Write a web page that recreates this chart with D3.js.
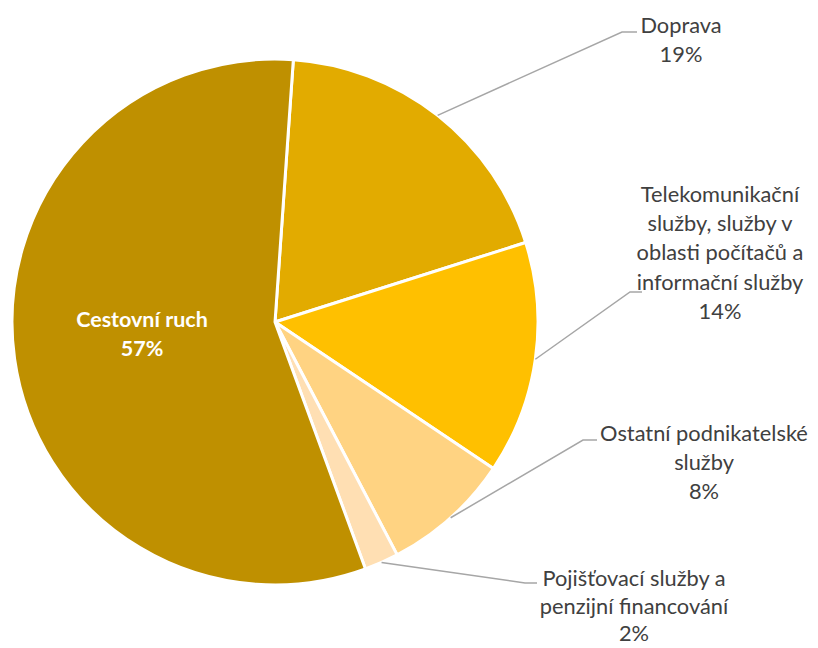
<!DOCTYPE html>
<html>
<head>
<meta charset="utf-8">
<script src="https://cdn.jsdelivr.net/npm/d3@7"></script>
<style>
  body { margin: 0; background: #fff; }
  .lbl { font-family: Lato, "Open Sans", sans-serif; font-size: 21.8px; fill: #404040; }
  .inner { font-family: Lato, "Open Sans", sans-serif; font-size: 21.5px; font-weight: bold; fill: #fff; }
  .leader { fill: none; stroke: #a6a6a6; stroke-width: 1.5; }
</style>
</head>
<body>
<script>
//categories and shares (%)
var categories = [
    ["Doprava"],
    ["Telekomunikační", "služby, služby v", "oblasti počítačů a", "informační služby"],
    ["Ostatní podnikatelské", "služby"],
    ["Pojišťovací služby a", "penzijní financování"],
    ["Cestovní ruch"]
];
var shares = [19.0, 14.3, 7.9, 2.1, 56.7];
var colors = ["#e2ab00", "#ffc000", "#ffd382", "#ffdfb3", "#bf9000"];

//label layout: text centre x, first baseline, elbow of leader line
var labelPos = [
    {x: 681, y: 33, elbow: [622, 32], end: [637, 32]},
    {x: 720, y: 202, elbow: [630, 292], end: [642, 292]},
    {x: 704, y: 441, elbow: [583, 440], end: [597, 440]},
    {x: 634, y: 586, elbow: [525, 583], end: [537, 583], lineH: 27.5},
    {x: 142, y: 327}
];

window.onload = setChart();

function setChart(){
    var width = 818,
        height = 648,
        cx = 275,
        cy = 322,
        radius = 263,
        lineH = 29.2;

    var svg = d3.select("body")
        .append("svg")
        .attr("width", width)
        .attr("height", height);

    var start = 4 * Math.PI / 180;
    var pie = d3.pie()
        .sort(null)
        .startAngle(start)
        .endAngle(start + 2 * Math.PI)
        .value(function(d){ return d; });

    var arcs = pie(shares);

    var arc = d3.arc()
        .innerRadius(0)
        .outerRadius(radius);

    var g = svg.append("g")
        .attr("transform", "translate(" + cx + "," + cy + ")");

    //slices
    g.selectAll(".slice")
        .data(arcs)
        .enter()
        .append("path")
        .attr("class", "slice")
        .attr("d", arc)
        .attr("fill", function(d, i){ return colors[i]; })
        .attr("stroke", "#fff")
        .attr("stroke-width", 3)
        .attr("stroke-linejoin", "round");

    //leader lines, starting at the rim in the middle of each slice
    svg.selectAll(".leader")
        .data(arcs.slice(0, 4))
        .enter()
        .append("polyline")
        .attr("class", "leader")
        .attr("points", function(d, i){
            var a = (d.startAngle + d.endAngle) / 2;
            var p0 = [cx + radius * Math.sin(a), cy - radius * Math.cos(a)];
            var L = labelPos[i];
            return [p0, L.elbow, L.end].map(function(p){ return p.join(","); }).join(" ");
        });

    //labels
    var labels = svg.selectAll(".label")
        .data(arcs)
        .enter()
        .append("text")
        .attr("class", function(d, i){ return i == 4 ? "inner" : "lbl"; })
        .attr("text-anchor", "middle");

    labels.each(function(d, i){
        var t = d3.select(this);
        var lh = labelPos[i].lineH || lineH;
        var lines = categories[i].concat([Math.round(shares[i]) + "%"]);
        lines.forEach(function(s, k){
            t.append("tspan")
                .attr("x", labelPos[i].x)
                .attr("y", labelPos[i].y + k * lh)
                .text(s);
        });
    });
};
</script>
</body>
</html>
